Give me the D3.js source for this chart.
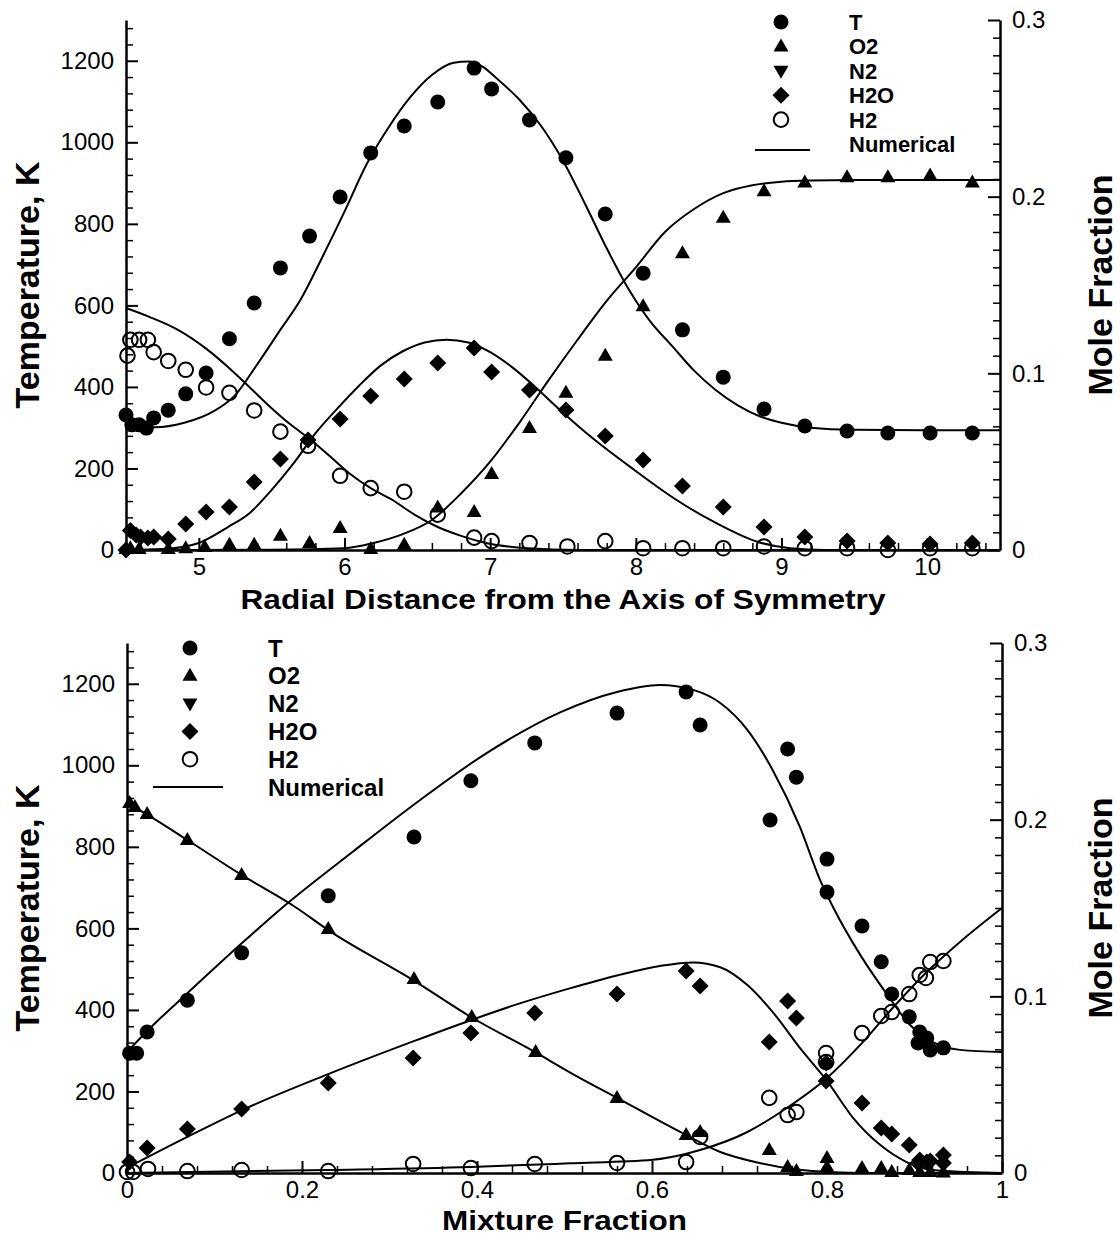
<!DOCTYPE html>
<html>
<head>
<meta charset="utf-8">
<script src="https://cdn.jsdelivr.net/npm/d3@7"></script>
<style>
  body { margin: 0; background: #fff; }
  svg { display: block; font-family: "Liberation Sans", Arial, sans-serif; }
  .axis text { font-size: 24px; fill: #000; }
  .axis line, .axis path { stroke: #000; }
</style>
</head>
<body>
<script>
// ---------- top panel: radial distance ----------
var topTempR = [4.50,4.54,4.59,4.64,4.69,4.79,4.91,5.05,5.21,5.38,5.56,5.76,5.97,6.18,6.41,6.64,6.89,7.01,7.27,7.52,7.79,8.05,8.32,8.60,8.88,9.16,9.45,9.73,10.02,10.31];
var topTemp  = [331,307,307,299,324,343,383,434,518,606,692,770,866,974,1040,1099,1182,1131,1055,962,824,679,540,424,346,304,292,287,287,287];

var topO2R = [4.50,4.53,4.59,4.79,4.91,5.04,5.21,5.38,5.56,5.76,5.97,6.18,6.41,6.64,6.89,7.01,7.27,7.52,7.79,8.05,8.32,8.60,8.88,9.16,9.45,9.73,10.02,10.31];
var topO2  = [0.0006,0.001,0.0006,0.0006,0.001,0.0017,0.003,0.003,0.008,0.004,0.0125,0.0006,0.003,0.024,0.0215,0.043,0.069,0.089,0.110,0.138,0.168,0.188,0.203,0.208,0.211,0.211,0.212,0.208];

var topH2OR = [4.50,4.53,4.57,4.60,4.65,4.69,4.79,4.91,5.05,5.21,5.38,5.56,5.75,5.97,6.18,6.41,6.64,6.89,7.01,7.27,7.52,7.79,8.05,8.32,8.60,8.88,9.16,9.45,9.73,10.02,10.31];
var topH2O  = [0.000,0.011,0.0085,0.0074,0.0068,0.0074,0.0062,0.0147,0.0215,0.0243,0.0385,0.0515,0.0623,0.0741,0.0871,0.0968,0.1058,0.1143,0.1007,0.0906,0.0792,0.0645,0.0509,0.0362,0.0243,0.0130,0.0074,0.0051,0.0040,0.0034,0.0040];

var topH2R = [4.51,4.53,4.59,4.65,4.69,4.79,4.91,5.05,5.21,5.38,5.56,5.75,5.97,6.18,6.41,6.64,6.89,7.01,7.27,7.53,7.79,8.05,8.32,8.60,8.88,9.16,9.45,9.73,10.02,10.31];
var topH2  = [0.110,0.119,0.119,0.119,0.112,0.107,0.102,0.092,0.089,0.079,0.067,0.059,0.042,0.035,0.033,0.020,0.007,0.005,0.004,0.002,0.005,0.001,0.001,0.001,0.002,0.001,0.001,0.000,0.001,0.001];

// numerical curves (top)
var topTempLineR = [4.50,4.70,4.90,5.10,5.25,5.40,5.55,5.70,5.85,6.00,6.15,6.30,6.45,6.60,6.75,6.85,6.95,7.05,7.20,7.35,7.50,7.65,7.80,7.95,8.10,8.25,8.40,8.55,8.70,8.85,9.00,9.20,9.50,10.0,10.5];
var topTempLine  = [305,301,312,340,380,455,535,615,720,830,945,1035,1110,1165,1195,1198,1185,1155,1105,1040,955,850,740,640,560,500,440,392,355,328,312,300,295,294,294];
var topO2LineR = [4.50,5.50,6.00,6.20,6.40,6.60,6.80,7.00,7.20,7.40,7.60,7.80,8.00,8.20,8.40,8.60,8.80,9.00,9.20,9.50,10.0,10.5];
var topO2Line  = [0,0.0002,0.001,0.004,0.009,0.017,0.032,0.050,0.072,0.096,0.119,0.141,0.160,0.180,0.193,0.202,0.2065,0.2085,0.2092,0.2095,0.2095,0.2095];
var topH2OLineR = [4.50,4.75,5.00,5.20,5.35,5.50,5.65,5.80,5.95,6.10,6.25,6.40,6.55,6.70,6.85,7.00,7.15,7.30,7.47,7.70,7.99,8.28,8.55,8.84,9.06,9.30,10.5];
var topH2OLine  = [0,0.0005,0.004,0.013,0.021,0.034,0.049,0.066,0.080,0.093,0.1045,0.1125,0.1175,0.119,0.1175,0.112,0.1035,0.093,0.080,0.0635,0.0453,0.0283,0.0153,0.0045,0.001,0,0];
var topH2LineR = [4.50,4.66,4.86,5.05,5.20,5.35,5.49,5.63,5.77,5.90,6.03,6.18,6.33,6.48,6.64,6.80,6.97,7.26,7.60,10.5];
var topH2Line  = [0.137,0.132,0.1245,0.114,0.1036,0.092,0.081,0.071,0.0623,0.053,0.0436,0.035,0.0283,0.020,0.013,0.008,0.004,0.001,0,0];

// ---------- bottom panel: mixture fraction ----------
var botTempZ = [0.003,0.011,0.023,0.069,0.131,0.230,0.328,0.393,0.466,0.560,0.639,0.655,0.735,0.755,0.765,0.800,0.800,0.840,0.862,0.874,0.894,0.906,0.914,0.904,0.918,0.933];
var botTemp  = [294,294,346,424,540,680,824,962,1055,1128,1180,1099,866,1040,971,770,689,606,518,439,383,346,331,319,302,307];

var botO2Z = [0.003,0.009,0.023,0.069,0.131,0.230,0.328,0.394,0.467,0.560,0.639,0.655,0.734,0.755,0.765,0.800,0.800,0.840,0.862,0.874,0.894,0.906,0.918,0.933];
var botO2  = [0.2094,0.2072,0.2032,0.1885,0.1687,0.1381,0.1098,0.0883,0.0685,0.0425,0.0215,0.0232,0.0130,0.0034,0.0011,0.0085,0.0034,0.0028,0.0028,0.0006,0.0017,0.0006,0.0006,0.0003];

var botH2OZ = [0.003,0.023,0.069,0.131,0.230,0.327,0.393,0.466,0.560,0.639,0.655,0.734,0.755,0.765,0.799,0.799,0.840,0.862,0.874,0.894,0.906,0.914,0.904,0.918,0.933,0.933];
var botH2O  = [0.0062,0.0142,0.0249,0.0362,0.0509,0.0651,0.0792,0.0906,0.1013,0.1143,0.1058,0.0741,0.0974,0.0877,0.0623,0.0521,0.0396,0.0255,0.0221,0.0158,0.0074,0.0062,0.0057,0.0068,0.0102,0.0057];

var botH2Z = [0.000,0.007,0.024,0.069,0.131,0.230,0.327,0.393,0.466,0.560,0.639,0.655,0.734,0.755,0.765,0.799,0.799,0.840,0.862,0.874,0.894,0.906,0.913,0.918,0.933];
var botH2  = [0.0006,0.0006,0.0023,0.0011,0.0017,0.0011,0.0051,0.0028,0.0051,0.0057,0.0062,0.0204,0.0425,0.0328,0.0345,0.0679,0.0628,0.0792,0.0889,0.0911,0.1013,0.1121,0.1104,0.1194,0.1200];

// numerical curves (bottom)
var botTempLineZ = [0,0.03,0.069,0.133,0.178,0.258,0.335,0.411,0.495,0.560,0.609,0.647,0.678,0.709,0.738,0.769,0.792,0.807,0.838,0.869,0.895,0.921,0.952,1.0];
var botTempLine  = [297,363,441,567,652,788,915,1030,1130,1180,1197,1185,1153,1087,988,849,719,652,535,437,363,321,302,297];
var botO2LineZ = [0,0.024,0.069,0.131,0.194,0.23,0.327,0.393,0.466,0.506,0.56,0.639,0.678,0.723,0.761,0.80,0.85,1.0];
var botO2Line  = [0.2094,0.2026,0.1885,0.1687,0.150,0.1375,0.1092,0.0883,0.0685,0.057,0.0425,0.0215,0.0119,0.0057,0.0023,0.0006,0,0];
var botH2OLineZ = [0,0.069,0.131,0.23,0.327,0.393,0.449,0.506,0.56,0.609,0.647,0.678,0.709,0.738,0.769,0.80,0.83,0.861,0.891,0.921,0.96,1.0];
var botH2OLine  = [0.003,0.0205,0.0355,0.056,0.0745,0.0865,0.096,0.1045,0.1118,0.1172,0.1192,0.1165,0.1064,0.0911,0.0708,0.0521,0.0311,0.0158,0.0062,0.0017,0.0006,0];
var botH2LineZ = [0,0.23,0.393,0.506,0.601,0.655,0.709,0.754,0.80,0.838,0.875,0.914,0.952,1.0];
var botH2Line  = [0,0.0017,0.0034,0.0055,0.0075,0.013,0.0232,0.0368,0.0538,0.0725,0.0934,0.1138,0.1308,0.150];

// ---------- ticks / labels ----------
var tempTicks = [0,200,400,600,800,1000,1200];
var moleTicks = [0,0.1,0.2,0.3];
var moleTickLabels = ["0","0.1","0.2","0.3"];
var radTicks = [5,6,7,8,9,10];
var mixTicks = [0,0.2,0.4,0.6,0.8,1];
var mixTickLabels = ["0","0.2","0.4","0.6","0.8","1"];
var legendNames = ["T","O2","N2","H2O","H2","Numerical"];
var legendKinds = ["dot","up","down","diamond","ring","line"];

var svg = d3.select("body").append("svg")
  .attr("width", 1120).attr("height", 1241);

function zip(a, b) { return a.map(function(v, i) { return [v, b[i]]; }); }

// marker shapes
function addMarker(g, kind) {
  if (kind == "dot") g.append("circle").attr("r", 7.5).attr("fill", "#000");
  if (kind == "ring") g.append("circle").attr("r", 7.3).attr("fill", "none").attr("stroke", "#000").attr("stroke-width", 2);
  if (kind == "up") g.append("path").attr("d", "M0,-8 L7.5,5 L-7.5,5Z").attr("fill", "#000");
  if (kind == "down") g.append("path").attr("d", "M0,8 L7.5,-5 L-7.5,-5Z").attr("fill", "#000");
  if (kind == "diamond") g.append("path").attr("d", "M0,-8.5 L8.5,0 L0,8.5 L-8.5,0Z").attr("fill", "#000");
}

function drawPanel(p) {
  var x = d3.scaleLinear().domain(p.xDomain).range([p.left, p.right]);
  var yT = d3.scaleLinear().domain([0, 1300]).range([p.bottom, p.top]);
  var yM = d3.scaleLinear().domain([0, 0.3]).range([p.bottom, p.top]);
  var g = svg.append("g");

  // axes: left (temperature)
  g.append("g").attr("class", "axis").attr("transform", "translate(" + p.left + ",0)")
    .call(d3.axisLeft(yT).tickValues(d3.range(40, 1300, 40).filter(function(v) { return v % 200 != 0; }))
      .tickSizeInner(-7).tickSizeOuter(0).tickFormat(""))
    .call(function(a) { a.select(".domain").remove(); a.selectAll("line").attr("stroke-width", 1.5); });
  g.append("g").attr("class", "axis").attr("transform", "translate(" + p.left + ",0)")
    .call(d3.axisLeft(yT).tickValues(tempTicks).tickSizeInner(-12).tickSizeOuter(0).tickPadding(12)
      .tickFormat(d3.format("d")))
    .call(function(a) { a.select(".domain").attr("stroke-width", 2.5); a.selectAll("line").attr("stroke-width", 2); });

  // right (mole fraction)
  g.append("g").attr("class", "axis").attr("transform", "translate(" + p.right + ",0)")
    .call(d3.axisRight(yM).tickValues(d3.range(1, 30).filter(function(v) { return v % 10 != 0; }).map(function(v) { return v / 100; }))
      .tickSizeInner(-7).tickSizeOuter(0).tickFormat(""))
    .call(function(a) { a.select(".domain").remove(); a.selectAll("line").attr("stroke-width", 1.5); });
  g.append("g").attr("class", "axis").attr("transform", "translate(" + p.right + ",0)")
    .call(d3.axisRight(yM).tickValues(moleTicks).tickSizeInner(-12).tickSizeOuter(0).tickPadding(12)
      .tickFormat(function(d, i) { return moleTickLabels[i]; }))
    .call(function(a) { a.select(".domain").attr("stroke-width", 2.5); a.selectAll("line").attr("stroke-width", 2); });

  // bottom
  g.append("g").attr("class", "axis").attr("transform", "translate(0," + p.bottom + ")")
    .call(d3.axisBottom(x).tickValues(p.xMinor).tickSizeInner(-7).tickSizeOuter(0).tickFormat(""))
    .call(function(a) { a.select(".domain").remove(); a.selectAll("line").attr("stroke-width", 1.5); });
  g.append("g").attr("class", "axis").attr("transform", "translate(0," + p.bottom + ")")
    .call(d3.axisBottom(x).tickValues(p.xTicks).tickSizeInner(-12).tickSizeOuter(0).tickPadding(8)
      .tickFormat(function(d, i) { return p.xLabels[i]; }))
    .call(function(a) { a.select(".domain").attr("stroke-width", 2.5); a.selectAll("line").attr("stroke-width", 2); });

  // numerical curves
  var curves = [[p.tLine, yT], [p.o2Line, yM], [p.h2oLine, yM], [p.h2Line, yM]];
  curves.forEach(function(c) {
    var ys = c[1];
    var line = d3.line().x(function(d) { return x(d[0]); }).y(function(d) { return ys(d[1]); })
      .curve(d3.curveMonotoneX);
    g.append("path").datum(c[0]).attr("d", line)
      .attr("fill", "none").attr("stroke", "#000").attr("stroke-width", 2);
  });

  // measured points
  var series = [[p.o2, yM, "up"], [p.h2o, yM, "diamond"], [p.h2, yM, "ring"], [p.t, yT, "dot"]];
  series.forEach(function(s) {
    var ys = s[1];
    g.append("g").selectAll("g").data(s[0]).enter().append("g")
      .attr("transform", function(d) { return "translate(" + x(d[0]) + "," + ys(d[1]) + ")"; })
      .each(function() { addMarker(d3.select(this), s[2]); });
  });

  // legend
  var lg = g.append("g");
  legendNames.forEach(function(name, i) {
    var yy = p.legY + i * p.legStep;
    if (legendKinds[i] == "line") {
      lg.append("line").attr("x1", p.legLine[0]).attr("x2", p.legLine[1])
        .attr("y1", yy + p.legLineDy).attr("y2", yy + p.legLineDy)
        .attr("stroke", "#000").attr("stroke-width", 2);
    } else {
      addMarker(lg.append("g").attr("transform", "translate(" + p.legSym + "," + yy + ")"), legendKinds[i]);
    }
    lg.append("text").attr("x", p.legText).attr("y", yy).attr("dy", "0.36em")
      .style("font-size", p.legFont + "px").style("font-weight", "bold").text(name);
  });

  // axis titles
  var mid = (p.top + p.bottom) / 2;
  g.append("text").attr("transform", "translate(39," + mid + ") rotate(-90)")
    .attr("text-anchor", "middle").style("font-size", "34px").style("font-weight", "bold")
    .text("Temperature, K");
  g.append("text").attr("transform", "translate(1112," + mid + ") rotate(-90)")
    .attr("text-anchor", "middle").style("font-size", "34px").style("font-weight", "bold")
    .text("Mole Fraction");
  g.append("text").attr("x", (p.left + p.right) / 2).attr("y", p.titleY)
    .attr("text-anchor", "middle").style("font-size", p.titleFont + "px").style("font-weight", "bold")
    .attr("textLength", p.titleLen).attr("lengthAdjust", "spacingAndGlyphs")
    .text(p.title);
}

drawPanel({
  left: 126, right: 1000, top: 20, bottom: 550,
  xDomain: [4.5, 10.5],
  xTicks: radTicks, xLabels: radTicks.map(String),
  xMinor: d3.range(23, 53).map(function(v) { return v / 5; }).filter(function(v) { return v % 1 != 0; }),
  t: zip(topTempR, topTemp), o2: zip(topO2R, topO2), h2o: zip(topH2OR, topH2O), h2: zip(topH2R, topH2),
  tLine: zip(topTempLineR, topTempLine), o2Line: zip(topO2LineR, topO2Line),
  h2oLine: zip(topH2OLineR, topH2OLine), h2Line: zip(topH2LineR, topH2Line),
  legY: 22, legStep: 24.4, legSym: 781, legText: 849, legLine: [755, 810], legLineDy: 6, legFont: 22,
  title: "Radial Distance from the Axis of Symmetry", titleY: 609, titleFont: 28, titleLen: 645
});

drawPanel({
  left: 127, right: 1002, top: 643, bottom: 1173,
  xDomain: [0, 1],
  xTicks: mixTicks, xLabels: mixTickLabels,
  xMinor: d3.range(1, 25).filter(function(v) { return v % 5 != 0; }).map(function(v) { return v / 25; }),
  t: zip(botTempZ, botTemp), o2: zip(botO2Z, botO2), h2o: zip(botH2OZ, botH2O), h2: zip(botH2Z, botH2),
  tLine: zip(botTempLineZ, botTempLine), o2Line: zip(botO2LineZ, botO2Line),
  h2oLine: zip(botH2OLineZ, botH2OLine), h2Line: zip(botH2LineZ, botH2Line),
  legY: 648, legStep: 27.8, legSym: 190, legText: 268, legLine: [153, 223], legLineDy: 0, legFont: 24,
  title: "Mixture Fraction", titleY: 1230, titleFont: 27, titleLen: 245
});
</script>
</body>
</html>
